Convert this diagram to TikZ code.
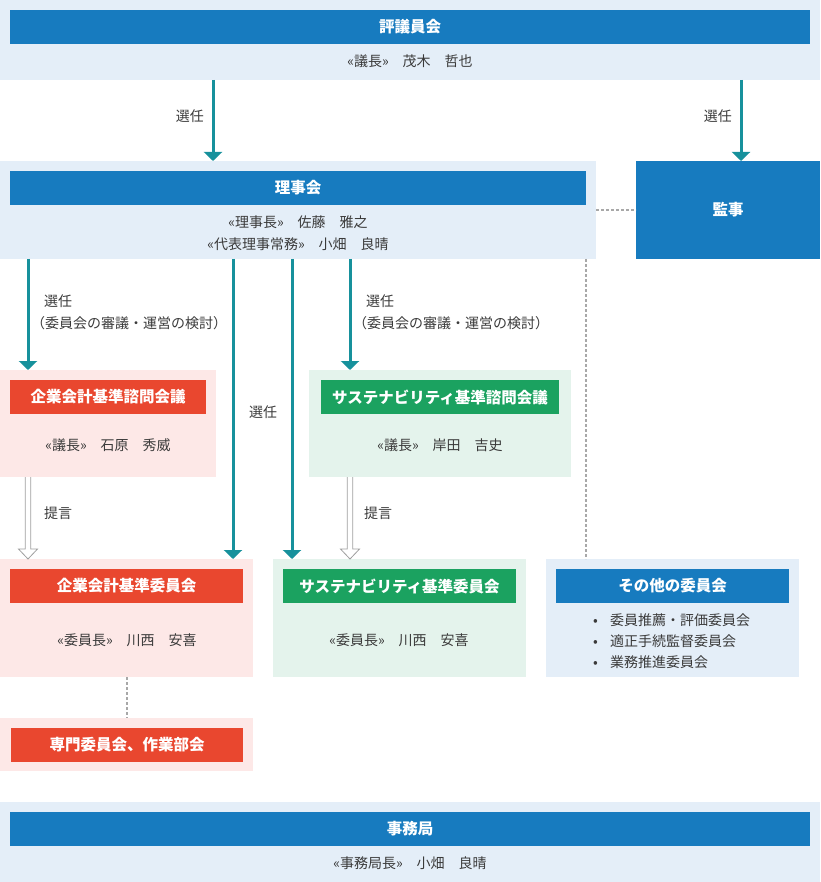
\documentclass[tikz,border=0pt]{standalone}
\usepackage{fontspec}
\setmainfont{Noto Sans CJK JP}
\usepackage{xcolor}
\usetikzlibrary{arrows.meta,calc}

\definecolor{barblue}{HTML}{177BBF}
\definecolor{bgblue}{HTML}{E4EEF8}
\definecolor{barred}{HTML}{E9472F}
\definecolor{bgred}{HTML}{FDE8E7}
\definecolor{bargreen}{HTML}{1BA260}
\definecolor{bggreen}{HTML}{E4F3EC}
\definecolor{selteal}{HTML}{17919C}
\definecolor{txtgray}{HTML}{3A3A3A}
\definecolor{dotgray}{HTML}{A8A8A8}

\tikzset{
	bg/.style={anchor=north west, inner sep=0, outer sep=0, rectangle},
	bar/.style={anchor=north west, inner sep=0, outer sep=0, rectangle, minimum height=34,
		text=white, font=\bfseries\fontsize{15.5}{18}\selectfont},
	txt/.style={text=txtgray, font=\fontsize{14}{22}\selectfont, inner sep=0},
	sel/.style={selteal, line width=3pt, -{Triangle[width=18pt,length=9pt]}},
	dot/.style={dotgray, line width=1.5pt, dash pattern=on 3pt off 2pt}
}

% hollow arrow from #1 down to #2
\def \teigen #1#2{
	\draw[gray!75, line width=0.8pt, fill=white] let \p1=(#1), \p2=(#2) in
		(\x1-2.7pt,\y1) -- (\x1-2.7pt,\y2+10pt) -- (\x1-9.5pt,\y2+10pt) -- (\x1,\y2)
		-- (\x1+9.5pt,\y2+10pt) -- (\x1+2.7pt,\y2+10pt) -- (\x1+2.7pt,\y1);
}

\begin{document}
\begin{tikzpicture}[x=1pt, y=-1pt]

\useasboundingbox (0,0) rectangle (820,882);

% ------------------------------------------------------

\node[bg, fill=bgblue, minimum width=820, minimum height=80] (hyogiBg) at (0,0) {};
\node[bar, fill=barblue, minimum width=800] (hyogi) at (10,10) {評議員会};
\node[txt] (hyogiChair) at (410,61) {«議長»　茂木　哲也};

\node[bg, fill=bgblue, minimum width=596, minimum height=98] (rijiBg) at (0,161) {};
\node[bar, fill=barblue, minimum width=576] (riji) at (10,171) {理事会};
\node[txt, align=center] (rijiChair) at (298,233) {«理事長»　佐藤　雅之\\«代表理事常務»　小畑　良晴};

\node[bar, fill=barblue, minimum width=184, minimum height=98] (kanji) at (636,161) {監事};

\draw[dot] (rijiBg.east) -- (kanji.west);

\draw[sel] (hyogiBg.south -| 213,0) -- (rijiBg.north -| 213,0);
\draw[sel] (hyogiBg.south -| 741,0) -- (kanji.north -| 741,0);
\node[txt, anchor=east] (selRiji) at (204,116) {選任};
\node[txt, anchor=east] (selKanji) at (732,116) {選任};

% ------------------------------------------------------

\node[bg, fill=bgred, minimum width=216, minimum height=107] (kaigiABg) at (0,370) {};
\node[bar, fill=barred, minimum width=196] (kaigiA) at (10,380) {企業会計基準諮問会議};
\node[txt] (kaigiAChair) at (108,445) {«議長»　石原　秀威};

\node[bg, fill=bggreen, minimum width=262, minimum height=107] (kaigiBBg) at (309,370) {};
\node[bar, fill=bargreen, minimum width=238] (kaigiB) at (321,380) {サステナビリティ基準諮問会議};
\node[txt] (kaigiBChair) at (440,445) {«議長»　岸田　吉史};

\node[bg, fill=bgred, minimum width=253, minimum height=118] (iinABg) at (0,559) {};
\node[bar, fill=barred, minimum width=233] (iinA) at (10,569) {企業会計基準委員会};
\node[txt] (iinAChair) at (127,640) {«委員長»　川西　安喜};

\node[bg, fill=bggreen, minimum width=253, minimum height=118] (iinBBg) at (273,559) {};
\node[bar, fill=bargreen, minimum width=233] (iinB) at (283,569) {サステナビリティ基準委員会};
\node[txt] (iinBChair) at (399,640) {«委員長»　川西　安喜};

\node[bg, fill=bgblue, minimum width=253, minimum height=118] (otherBg) at (546,559) {};
\node[bar, fill=barblue, minimum width=233] (other) at (556,569) {その他の委員会};
\node[txt, align=left, anchor=west, font=\fontsize{14}{21}\selectfont] (otherList) at (593,641)
	{\makebox[17pt][l]{•}委員推薦・評価委員会\\\makebox[17pt][l]{•}適正手続監督委員会\\\makebox[17pt][l]{•}業務推進委員会};

\node[bg, fill=bgred, minimum width=253, minimum height=53] (senmonBg) at (0,718) {};
\node[bar, fill=barred, minimum width=232] (senmon) at (11,728) {専門委員会、作業部会};

% ------------------------------------------------------

\draw[sel] (rijiBg.south -| 28,0) -- (kaigiABg.north -| 28,0);
\draw[sel] (rijiBg.south -| 233,0) -- (iinABg.north -| 233,0);
\draw[sel] (rijiBg.south -| 292,0) -- (iinBBg.north -| 292,0);
\draw[sel] (rijiBg.south -| 350,0) -- (kaigiBBg.north -| 350,0);
\draw[dot] (rijiBg.south -| 586,0) -- (otherBg.north -| 586,0);

\node[txt, anchor=west] (selA) at (44,301) {選任};
\node[txt] (selANote) at (129,323) {（委員会の審議・運営の検討）};
\node[txt, anchor=west] (selB) at (366,301) {選任};
\node[txt] (selBNote) at (451,323) {（委員会の審議・運営の検討）};
\node[txt] (selMid) at (263,412) {選任};

\teigen{kaigiABg.south -| 28,0}{iinABg.north -| 28,0}
\teigen{kaigiBBg.south -| 350,0}{iinBBg.north -| 350,0}
\node[txt, anchor=west] (teigenA) at (44,513) {提言};
\node[txt, anchor=west] (teigenB) at (364,513) {提言};

\draw[dot] (iinABg.south -| 127,0) -- (senmonBg.north -| 127,0);

% ------------------------------------------------------

\node[bg, fill=bgblue, minimum width=820, minimum height=80] (jimuBg) at (0,802) {};
\node[bar, fill=barblue, minimum width=800] (jimu) at (10,812) {事務局};
\node[txt] (jimuChair) at (410,863) {«事務局長»　小畑　良晴};

\end{tikzpicture}
\end{document}
